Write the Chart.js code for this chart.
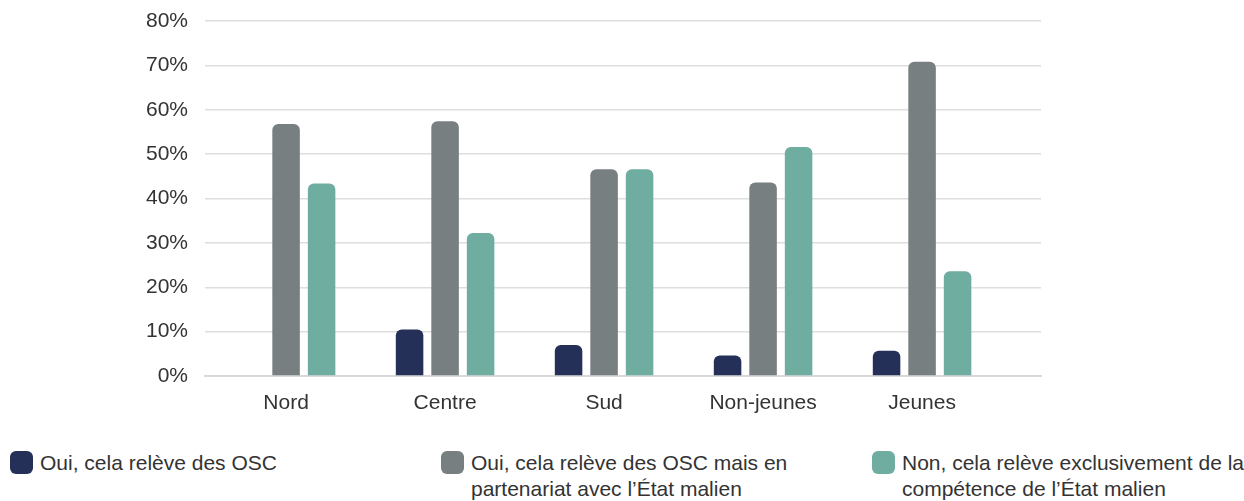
<!DOCTYPE html>
<html>
<head>
<meta charset="utf-8">
<script src="https://cdn.jsdelivr.net/npm/chart.js@4.4.1/dist/chart.umd.min.js"></script>
<style>
  html, body { margin: 0; padding: 0; background: #ffffff; }
  body { width: 1244px; height: 501px; position: relative; overflow: hidden; font-family: "Liberation Sans", Arial, Helvetica, sans-serif; }
  #wrap { position: absolute; left: 0; top: 0; width: 1244px; height: 430px; }
  #legend { position: absolute; left: 0; top: 450px; width: 1244px; height: 51px; }
  .item { position: absolute; top: 0; display: flex; align-items: flex-start; color: #333333; font-size: 21px; line-height: 26px; }
  .sw { width: 23px; height: 23px; border-radius: 6px; margin-right: 7px; margin-top: 1px; flex: 0 0 auto; }
</style>
</head>
<body>
<div id="wrap"><canvas id="c" width="1244" height="430"></canvas></div>
<div id="legend"></div>
<script>
const categories = ["Nord", "Centre", "Sud", "Non-jeunes", "Jeunes"];
const seriesNames = [
  "Oui, cela relève des OSC",
  "Oui, cela relève des OSC mais en partenariat avec l’État malien",
  "Non, cela relève exclusivement de la compétence de l’État malien"
];
const legendLines = [
  ["Oui, cela relève des OSC"],
  ["Oui, cela relève des OSC mais en", "partenariat avec l’État malien"],
  ["Non, cela relève exclusivement de la", "compétence de l’État malien"]
];
const ouiOSC       = [0, 10.5, 7.0, 4.6, 5.7];
const ouiPartenar  = [56.8, 57.4, 46.6, 43.6, 70.8];
const nonEtat      = [43.4, 32.2, 46.6, 51.6, 23.6];
const yTicks = [0, 10, 20, 30, 40, 50, 60, 70, 80];
const colors = ["#253059", "#787f81", "#6fada1"];
const seriesValues = [ouiOSC, ouiPartenar, nonEtat];

const FONT = '"Liberation Sans", Arial, Helvetica, sans-serif';

const datasets = seriesValues.map((vals, s) => ({
  label: seriesNames[s],
  data: vals.map((v, i) => ({ x: i, y: v })),
  backgroundColor: colors[s],
  borderWidth: 0,
  borderRadius: { topLeft: 6, topRight: 6, bottomLeft: 0, bottomRight: 0 },
  borderSkipped: false,
  barPercentage: 0.775,
  categoryPercentage: 0.67
}));

new Chart(document.getElementById("c"), {
  type: "bar",
  data: { datasets },
  options: {
    responsive: false,
    animation: false,
    devicePixelRatio: 1,
    layout: { padding: { left: 0, right: 203, top: 21, bottom: 0 } },
    plugins: { legend: { display: false }, tooltip: { enabled: false } },
    scales: {
      x: {
        type: "linear",
        min: -0.51,
        max: 4.748,
        offset: false,
        z: 1,
        grid: { display: false, drawTicks: false },
        border: { display: true, color: "rgba(215,215,215,0.85)", width: 2 },
        ticks: {
          stepSize: 1,
          includeBounds: false,
          autoSkip: false,
          maxRotation: 0,
          padding: 15,
          color: "#333333",
          font: { family: FONT, size: 21 },
          callback: (v) => Number.isInteger(v) && categories[v] !== undefined ? categories[v] : null
        },
        afterFit: (scale) => { scale.height = 54; }
      },
      y: {
        min: 0,
        max: 80,
        afterBuildTicks: (scale) => { scale.ticks = yTicks.map(v => ({ value: v })); },
        grid: { color: "#dedede", lineWidth: 1.5, drawTicks: true, tickLength: 17, tickColor: "rgba(0,0,0,0)" },
        border: { display: false },
        ticks: {
          padding: 0,
          color: "#333333",
          font: { family: FONT, size: 21 },
          callback: (v) => v + "%"
        },
        afterFit: (scale) => { scale.width = 205; }
      }
    }
  }
});

const legendX = [10, 441, 872];
const legend = document.getElementById("legend");
legendLines.forEach((lines, s) => {
  const it = document.createElement("div");
  it.className = "item";
  it.style.left = legendX[s] + "px";
  const sw = document.createElement("div");
  sw.className = "sw";
  sw.style.background = colors[s];
  const tx = document.createElement("div");
  tx.innerHTML = lines.map(l => "<div>" + l + "</div>").join("");
  it.appendChild(sw);
  it.appendChild(tx);
  legend.appendChild(it);
});
</script>
</body>
</html>
